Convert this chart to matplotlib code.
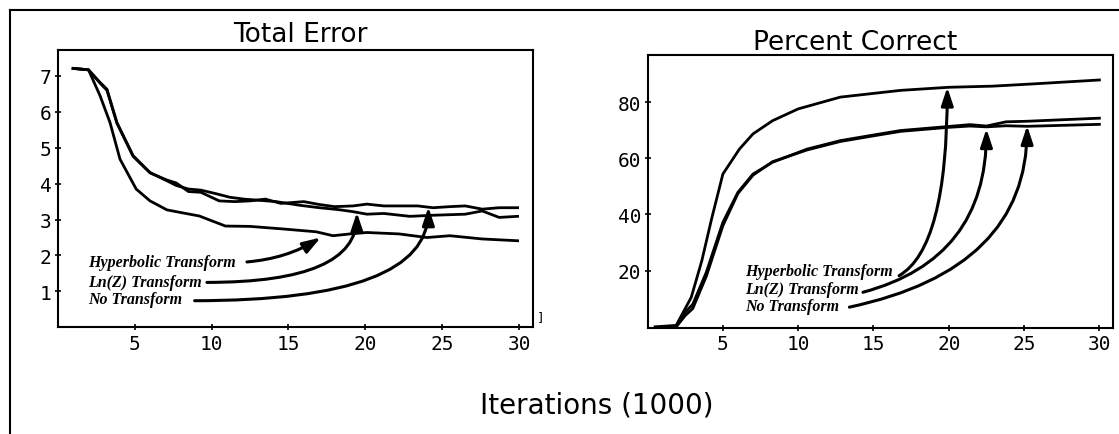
import matplotlib
matplotlib.use("Agg")
import matplotlib.pyplot as plt
from matplotlib.lines import Line2D

# ---- Total Error (left panel) ----
err_hyp_x = [1, 2, 2.75, 3.4, 4.05, 5.1, 6.0, 7.1, 8.2, 9.2, 10.9, 12.5, 14.6, 16.8,
             17.9, 19.0, 20.1, 22.2, 24.0, 25.5, 27.6, 29.9]
err_hyp = [7.21, 7.17, 6.45, 5.7, 4.68, 3.85, 3.52, 3.27, 3.18, 3.1, 2.82, 2.81, 2.74, 2.66,
           2.55, 2.6, 2.64, 2.6, 2.5, 2.55, 2.46, 2.41]

err_lnz_x = [1, 2, 2.75, 3.2, 3.85, 4.9, 6.0, 7.1, 7.7, 8.5, 9.3, 10.3, 11.2, 12.1, 14.2,
             15.7, 17.0, 18.2, 19.2, 20.1, 21.2, 22.9, 24.4, 26.5, 27.6, 28.7, 29.9]
err_lnz = [7.21, 7.17, 6.82, 6.63, 5.7, 4.78, 4.31, 4.08, 3.95, 3.85, 3.82, 3.72, 3.62, 3.57, 3.5,
           3.4, 3.33, 3.28, 3.22, 3.15, 3.17, 3.09, 3.12, 3.15, 3.24, 3.06, 3.09]

err_none_x = [1, 2, 2.75, 3.2, 3.85, 4.9, 6.0, 7.1, 7.7, 8.5, 9.3, 10.5, 11.5, 12.5, 13.5,
              14.5, 16.0, 17.0, 18.0, 19.2, 20.1, 21.2, 23.4, 24.4, 25.5, 26.5, 27.6, 28.7, 29.9]
err_none = [7.21, 7.17, 6.8, 6.6, 5.68, 4.76, 4.3, 4.1, 4.02, 3.78, 3.76, 3.52, 3.5, 3.52, 3.57,
            3.45, 3.5, 3.42, 3.36, 3.38, 3.43, 3.38, 3.38, 3.33, 3.36, 3.38, 3.29, 3.33, 3.33]

# ---- Percent Correct (right panel) ----
pc_hyp_x = [0.5, 1.9, 2.9, 3.6, 4.25, 5.0, 6.1, 7.0, 8.3, 10.0, 12.8, 16.8, 20.0, 22.9, 25.6, 30.0]
pc_hyp = [0, 0.5, 10.5, 23.5, 38.4, 54.4, 63.3, 68.7, 73.4, 77.6, 81.8, 84.2, 85.3, 85.7, 86.5, 87.9]

pc_lnz_x = [1.9, 2.5, 3.0, 3.9, 5.0, 6.0, 7.0, 8.3, 10.6, 12.8, 15.0, 16.8, 19.9, 21.4, 22.5,
            23.8, 25.2, 30.0]
pc_lnz = [0, 5.2, 8.0, 19.4, 37.2, 47.9, 54.4, 58.6, 63.3, 66.3, 68.3, 69.9, 71.3, 72.0, 71.5,
          73.0, 73.2, 74.3]
pc_none = [0, 4.0, 6.5, 18.0, 36.0, 47.5, 54.0, 58.8, 63.0, 66.0, 68.0, 69.6, 71.0, 71.5, 71.2,
           71.6, 71.4, 72.1]

labels = ["Hyperbolic Transform", "Ln(Z) Transform", "No Transform"]

# label anchors (text position, arrow start, arrow tip, connection style)
err_text = [(2.0, 1.82), (2.0, 1.26), (2.0, 0.79)]
err_start = [(12.3, 1.82), (9.7, 1.25), (8.9, 0.74)]
err_tip = [(17.1, 2.5), (19.45, 3.2), (24.1, 3.35)]
err_ang = ["arc3,rad=0.12", "angle3,angleA=0,angleB=90", "angle3,angleA=0,angleB=90"]

pc_text = [(6.46, 20.0), (6.46, 13.5), (6.46, 7.5)]
pc_start = [(16.7, 18.2), (14.3, 12.3), (13.4, 7.0)]
pc_tip = [(19.9, 85.3), (22.5, 70.5), (25.2, 71.6)]
pc_ang = ["angle3,angleA=30,angleB=90", "angle3,angleA=15,angleB=90",
          "angle3,angleA=12,angleB=90"]

fig = plt.figure(figsize=(11.19, 4.35), dpi=100)
fig.patch.set_facecolor("white")

ax1 = fig.add_axes([0.0516, 0.2453, 0.4247, 0.6381])
ax2 = fig.add_axes([0.5787, 0.2448, 0.4159, 0.6265])

ax1.plot(err_hyp_x, err_hyp, color="black", lw=2.0)
ax1.plot(err_lnz_x, err_lnz, color="black", lw=2.0)
ax1.plot(err_none_x, err_none, color="black", lw=2.0)
ax1.set_xlim(0, 30.9)
ax1.set_ylim(0, 7.73)
ax1.set_yticks([1, 2, 3, 4, 5, 6, 7])

ax2.plot(pc_hyp_x, pc_hyp, color="black", lw=2.0)
ax2.plot(pc_lnz_x, pc_lnz, color="black", lw=2.0)
ax2.plot(pc_lnz_x, pc_none, color="black", lw=2.0)
ax2.set_xlim(0, 30.9)
ax2.set_ylim(-0.25, 96.8)
ax2.set_yticks([20, 40, 60, 80])

for ax in (ax1, ax2):
    ax.set_xticks([5, 10, 15, 20, 25, 30])
    ax.tick_params(direction="inout", length=5, width=1.2, pad=2,
                   labelsize=14, labelfontfamily="DejaVu Sans Mono")
    for sp in ax.spines.values():
        sp.set_linewidth(1.5)

legend_font = dict(family="Liberation Serif", weight="bold", style="italic", size=11.5)
arrow_base = dict(color="black", lw=2.2, shrinkA=0, shrinkB=0,
                  arrowstyle="-|>,head_length=0.6,head_width=0.2", mutation_scale=18)

for lab, t, s, tip, cs in zip(labels, err_text, err_start, err_tip, err_ang):
    ax1.text(t[0], t[1], lab, va="center", ha="left", **legend_font)
    ax1.annotate("", xy=tip, xytext=s, arrowprops=dict(connectionstyle=cs, **arrow_base))

for lab, t, s, tip, cs in zip(labels, pc_text, pc_start, pc_tip, pc_ang):
    ax2.text(t[0], t[1], lab, va="center", ha="left", **legend_font)
    ax2.annotate("", xy=tip, xytext=s, arrowprops=dict(connectionstyle=cs, **arrow_base))

fig.text(0.268, 1 - 42 / 435, "Total Error", ha="center", va="baseline",
         family="DejaVu Sans", size=19)
fig.text(855 / 1119, 1 - 50 / 435, "Percent Correct", ha="center", va="baseline",
         family="DejaVu Sans", size=19)
fig.text(597 / 1119, 1 - 414 / 435, "Iterations (1000)", ha="center", va="baseline",
         family="DejaVu Sans", size=20)
fig.text(540 / 1119, 1 - 318 / 435, "]", ha="center", va="center", size=9)

# scanned page frame: left and top edges
fig.add_artist(Line2D([10 / 1119, 10 / 1119], [0, 1 - 11 / 435], color="black", lw=1.5,
                      transform=fig.transFigure))
fig.add_artist(Line2D([10 / 1119, 1], [1 - 11 / 435, 1 - 11 / 435], color="black", lw=1.5,
                      transform=fig.transFigure))

fig.savefig("out.png", dpi=100, facecolor="white")
